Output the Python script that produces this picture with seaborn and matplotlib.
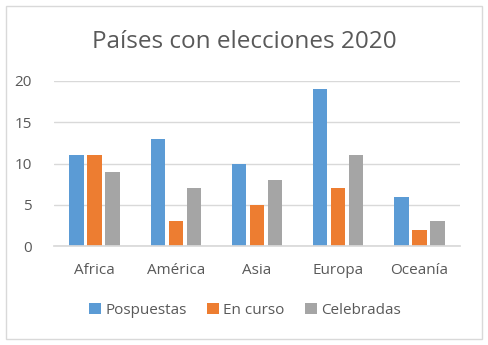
import matplotlib
matplotlib.use("Agg")
import matplotlib.pyplot as plt
import matplotlib.patches as mpatches
import seaborn as sns
import pandas as pd

categories = ["Africa", "América", "Asia", "Europa", "Oceanía"]
series_names = ["Pospuestas", "En curso", "Celebradas"]
pospuestas = [11, 13, 10, 19, 6]
en_curso = [11, 3, 5, 7, 2]
celebradas = [9, 7, 8, 11, 3]
yticks = [0, 5, 10, 15, 20]
title = "Países con elecciones 2020"

colors = ["#5B9BD5", "#ED7D31", "#A5A5A5"]
text_color = "#595959"

rows = []
for name, vals in zip(series_names, [pospuestas, en_curso, celebradas]):
    for c, v in zip(categories, vals):
        rows.append({"Continente": c, "Serie": name, "Valor": v})
df = pd.DataFrame(rows)

sns.set_theme(style="white")
plt.rcParams["font.family"] = ["Open Sans", "DejaVu Sans"]

fig = plt.figure(figsize=(4.88, 3.45), dpi=100)
ax = fig.add_axes([54/488, 1-246/345, 406/488, 165/345])

sns.barplot(data=df, x="Continente", y="Valor", hue="Serie", order=categories,
            hue_order=series_names, palette=colors, width=0.665, gap=0.2,
            saturation=1, ax=ax, legend=True, linewidth=0)

ax.set_ylim(0, 20)
ax.set_yticks(yticks)
ax.set_xlim(-0.5, 4.5)
ax.yaxis.grid(True, color="#D9D9D9", linewidth=1)
ax.set_axisbelow(True)
for s in ["top", "right", "left"]:
    ax.spines[s].set_visible(False)
ax.spines["bottom"].set_color("#D9D9D9")
ax.set_xlabel("")
ax.set_ylabel("")
ax.tick_params(axis="both", length=0, labelsize=11, labelcolor=text_color)
ax.tick_params(axis="x", pad=12)
ax.tick_params(axis="y", pad=16)

leg = ax.legend(loc="upper center", bbox_to_anchor=(0.47, -0.26), ncol=3,
                frameon=False, fontsize=11, handlelength=0.8, handleheight=0.8,
                handletextpad=0.3, columnspacing=1.3, labelcolor=text_color)

fig.text(0.5, 1-42/345, title, ha="center", va="center", fontsize=17.5, color=text_color)

border = mpatches.Rectangle((6/488, 6/345), 476/488, 333/345, transform=fig.transFigure,
                            fill=False, edgecolor="#D9D9D9", linewidth=1)
fig.patches.append(border)

fig.savefig("out.png", dpi=100, facecolor="white")
